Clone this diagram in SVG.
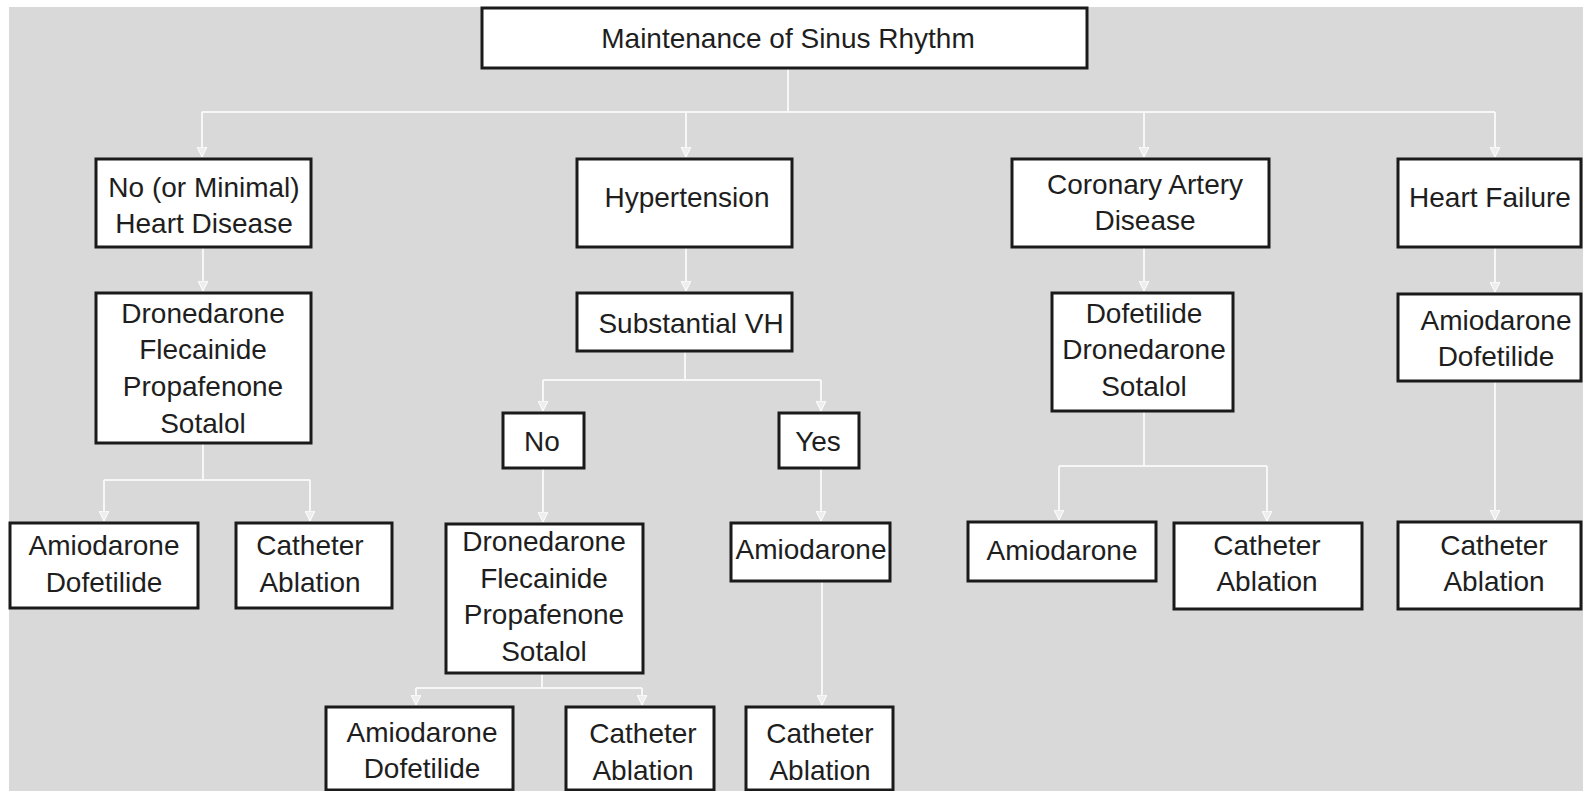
<svg xmlns="http://www.w3.org/2000/svg" width="1583" height="791" viewBox="0 0 1583 791">
<style>
.box{fill:#ffffff;stroke:#1a1a1a;stroke-width:3}
.t{font-family:"Liberation Sans",Arial,sans-serif;font-size:28px;fill:#1e1e1e;text-anchor:middle}
.c{fill:none;stroke:#f7f7f7;stroke-width:2}
</style>
<defs>
<marker id="arr" viewBox="0 0 10 10" refX="10" refY="5" markerWidth="10" markerHeight="10" markerUnits="userSpaceOnUse" orient="auto">
<path d="M0,0 L10,5 L0,10 z" fill="#eeeeee" stroke="#ffffff" stroke-width="1"/>
</marker>
</defs>
<rect x="0" y="0" width="1583" height="791" fill="#ffffff"/>
<rect x="9" y="7" width="1574" height="784" fill="#d9d9d9"/>
<g id="connectors">
<path class="c" d="M788,69 V112 M202,112 H1495"/>
<path class="c" d="M202,112 V157" marker-end="url(#arr)"/>
<path class="c" d="M686,112 V157" marker-end="url(#arr)"/>
<path class="c" d="M1144,112 V157" marker-end="url(#arr)"/>
<path class="c" d="M1495,112 V157" marker-end="url(#arr)"/>
<path class="c" d="M203,248 V291" marker-end="url(#arr)"/>
<path class="c" d="M203,444 V480 M104,480 H310"/>
<path class="c" d="M104,480 V521" marker-end="url(#arr)"/>
<path class="c" d="M310,480 V521" marker-end="url(#arr)"/>
<path class="c" d="M686,248 V291" marker-end="url(#arr)"/>
<path class="c" d="M685,352 V380 M543,380 H821"/>
<path class="c" d="M543,380 V411" marker-end="url(#arr)"/>
<path class="c" d="M821,380 V411" marker-end="url(#arr)"/>
<path class="c" d="M543,469 V522" marker-end="url(#arr)"/>
<path class="c" d="M821,469 V521" marker-end="url(#arr)"/>
<path class="c" d="M542,674 V688 M416,688 H642"/>
<path class="c" d="M416,688 V705" marker-end="url(#arr)"/>
<path class="c" d="M642,688 V705" marker-end="url(#arr)"/>
<path class="c" d="M822,582 V705" marker-end="url(#arr)"/>
<path class="c" d="M1144,248 V291" marker-end="url(#arr)"/>
<path class="c" d="M1144,412 V466 M1059,466 H1267"/>
<path class="c" d="M1059,466 V520" marker-end="url(#arr)"/>
<path class="c" d="M1267,466 V521" marker-end="url(#arr)"/>
<path class="c" d="M1495,248 V292" marker-end="url(#arr)"/>
<path class="c" d="M1495,382 V520" marker-end="url(#arr)"/>
</g>
<g id="n-root"><rect class="box" x="482" y="8" width="605" height="60"/><text class="t" x="788" y="48">Maintenance of Sinus Rhythm</text></g>
<g id="n-nohd"><rect class="box" x="96" y="159" width="215" height="88"/><text class="t" x="204" y="197">No (or Minimal)</text><text class="t" x="204" y="233">Heart Disease</text></g>
<g id="n-htn"><rect class="box" x="577" y="159" width="215" height="88"/><text class="t" x="687" y="207">Hypertension</text></g>
<g id="n-cad"><rect class="box" x="1012" y="159" width="257" height="88"/><text class="t" x="1145" y="194">Coronary Artery</text><text class="t" x="1145" y="230">Disease</text></g>
<g id="n-hf"><rect class="box" x="1398" y="159" width="183" height="88"/><text class="t" x="1490" y="207">Heart Failure</text></g>
<g id="n-drugs1"><rect class="box" x="96" y="293" width="215" height="150"/><text class="t" x="203" y="323">Dronedarone</text><text class="t" x="203" y="359">Flecainide</text><text class="t" x="203" y="396">Propafenone</text><text class="t" x="203" y="433">Sotalol</text></g>
<g id="n-svh"><rect class="box" x="577" y="293" width="215" height="58"/><text class="t" x="691" y="333">Substantial VH</text></g>
<g id="n-caddrugs"><rect class="box" x="1052" y="293" width="181" height="118"/><text class="t" x="1144" y="323">Dofetilide</text><text class="t" x="1144" y="359">Dronedarone</text><text class="t" x="1144" y="396">Sotalol</text></g>
<g id="n-hfdrugs"><rect class="box" x="1398" y="294" width="183" height="87"/><text class="t" x="1496" y="330">Amiodarone</text><text class="t" x="1496" y="366">Dofetilide</text></g>
<g id="n-l-amio"><rect class="box" x="10" y="523" width="188" height="85"/><text class="t" x="104" y="555">Amiodarone</text><text class="t" x="104" y="592">Dofetilide</text></g>
<g id="n-l-cath"><rect class="box" x="236" y="523" width="156" height="85"/><text class="t" x="310" y="555">Catheter</text><text class="t" x="310" y="592">Ablation</text></g>
<g id="n-no"><rect class="box" x="503" y="413" width="81" height="55"/><text class="t" x="542" y="451">No</text></g>
<g id="n-yes"><rect class="box" x="779" y="413" width="80" height="55"/><text class="t" x="818" y="451">Yes</text></g>
<g id="n-drugs2"><rect class="box" x="446" y="524" width="197" height="149"/><text class="t" x="544" y="551">Dronedarone</text><text class="t" x="544" y="588">Flecainide</text><text class="t" x="544" y="624">Propafenone</text><text class="t" x="544" y="661">Sotalol</text></g>
<g id="n-yes-amio"><rect class="box" x="731" y="523" width="159" height="58"/><text class="t" x="811" y="559">Amiodarone</text></g>
<g id="n-b-amio"><rect class="box" x="326" y="707" width="187" height="83"/><text class="t" x="422" y="742">Amiodarone</text><text class="t" x="422" y="778">Dofetilide</text></g>
<g id="n-b-cath"><rect class="box" x="566" y="707" width="148" height="83"/><text class="t" x="643" y="743">Catheter</text><text class="t" x="643" y="780">Ablation</text></g>
<g id="n-b-cath3"><rect class="box" x="746" y="707" width="147" height="83"/><text class="t" x="820" y="743">Catheter</text><text class="t" x="820" y="780">Ablation</text></g>
<g id="n-cad-amio"><rect class="box" x="968" y="522" width="188" height="59"/><text class="t" x="1062" y="560">Amiodarone</text></g>
<g id="n-cad-cath"><rect class="box" x="1174" y="523" width="188" height="86"/><text class="t" x="1267" y="555">Catheter</text><text class="t" x="1267" y="591">Ablation</text></g>
<g id="n-hf-cath"><rect class="box" x="1398" y="522" width="183" height="87"/><text class="t" x="1494" y="555">Catheter</text><text class="t" x="1494" y="591">Ablation</text></g>
</svg>
